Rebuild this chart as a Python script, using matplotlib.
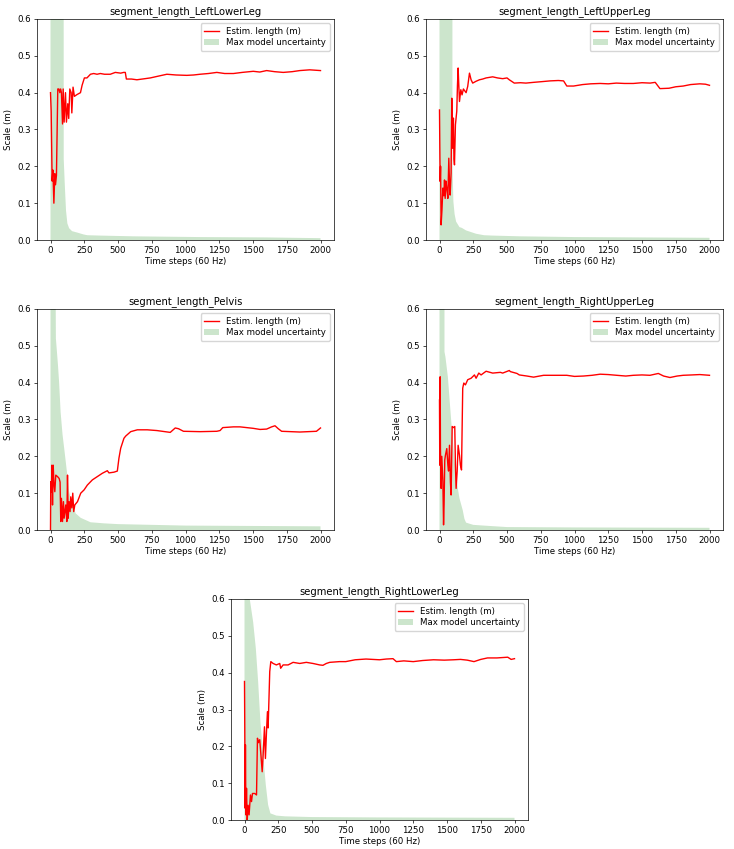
import numpy as np
import matplotlib
matplotlib.use("Agg")
import matplotlib.pyplot as plt

# estimated segment length (time step, value in m)
left_lower_len = [(0, 0.40), (5, 0.35), (12, 0.16), (18, 0.19), (25, 0.10), (32, 0.18), (37, 0.15),
                  (44, 0.175), (54, 0.41), (62, 0.41), (69, 0.40), (75, 0.41), (81, 0.40), (89, 0.315),
                  (94, 0.41), (101, 0.32), (111, 0.40), (118, 0.32), (128, 0.37), (135, 0.33), (143, 0.41),
                  (153, 0.40), (158, 0.345), (167, 0.415), (177, 0.39), (197, 0.395), (222, 0.40),
                  (234, 0.42), (251, 0.44), (270, 0.44), (296, 0.45), (320, 0.452), (345, 0.45),
                  (369, 0.452), (400, 0.45), (443, 0.45), (480, 0.455), (520, 0.453), (542, 0.455),
                  (554, 0.455), (562, 0.437), (600, 0.437), (640, 0.435), (700, 0.438), (739, 0.44),
                  (800, 0.445), (862, 0.45), (930, 0.448), (1010, 0.447), (1060, 0.448), (1108, 0.45),
                  (1170, 0.452), (1232, 0.455), (1290, 0.452), (1355, 0.452), (1420, 0.455), (1502, 0.458),
                  (1550, 0.456), (1601, 0.46), (1660, 0.457), (1724, 0.455), (1790, 0.457), (1847, 0.46),
                  (1920, 0.462), (2000, 0.46)]
left_lower_unc = [(0, 3.0), (96, 3.0), (98, 0.22), (106, 0.15), (115, 0.08), (125, 0.045), (138, 0.032),
                  (160, 0.024), (200, 0.02), (246, 0.015), (273, 0.013), (369, 0.012), (616, 0.01),
                  (1108, 0.008), (1601, 0.007), (2000, 0.005)]

left_upper_len = [(0, 0.353), (3, 0.222), (5, 0.159), (8, 0.20), (12, 0.041), (18, 0.08), (25, 0.141),
                  (32, 0.12), (37, 0.163), (42, 0.113), (48, 0.16), (54, 0.141), (62, 0.113), (69, 0.222),
                  (76, 0.13), (79, 0.122), (86, 0.182), (91, 0.385), (95, 0.25), (99, 0.249), (103, 0.331),
                  (107, 0.22), (111, 0.204), (118, 0.313), (128, 0.35), (133, 0.42), (138, 0.467),
                  (143, 0.42), (148, 0.376), (158, 0.408), (167, 0.394), (177, 0.41), (197, 0.40),
                  (209, 0.417), (222, 0.453), (234, 0.435), (246, 0.426), (271, 0.431), (296, 0.435),
                  (320, 0.437), (345, 0.44), (394, 0.443), (430, 0.44), (468, 0.438), (500, 0.44),
                  (517, 0.435), (554, 0.426), (600, 0.427), (640, 0.426), (697, 0.428), (760, 0.43),
                  (820, 0.432), (880, 0.433), (919, 0.432), (943, 0.418), (993, 0.418), (1060, 0.422),
                  (1120, 0.424), (1190, 0.425), (1250, 0.424), (1310, 0.426), (1370, 0.425), (1436, 0.425),
                  (1500, 0.427), (1560, 0.426), (1598, 0.428), (1633, 0.411), (1700, 0.412), (1750, 0.416),
                  (1805, 0.418), (1860, 0.422), (1928, 0.424), (1970, 0.423), (2000, 0.42)]
left_upper_unc = [(0, 3.0), (94, 3.0), (96, 0.204), (103, 0.104), (112, 0.07), (123, 0.05), (148, 0.035),
                  (165, 0.033), (197, 0.026), (230, 0.022), (271, 0.017), (330, 0.013), (394, 0.012),
                  (600, 0.01), (1000, 0.008), (1500, 0.007), (2000, 0.006)]

pelvis_len = [(0, 0.0), (2, 0.131), (7, 0.104), (10, 0.176), (15, 0.068), (20, 0.176), (25, 0.13),
              (32, 0.104), (39, 0.149), (52, 0.145), (64, 0.14), (71, 0.13), (76, 0.023), (81, 0.086),
              (89, 0.023), (96, 0.077), (101, 0.032), (113, 0.068), (121, 0.023), (126, 0.149),
              (131, 0.032), (138, 0.077), (145, 0.05), (150, 0.09), (158, 0.06), (165, 0.1), (172, 0.05),
              (180, 0.068), (200, 0.077), (224, 0.1), (249, 0.109), (273, 0.122), (310, 0.136),
              (347, 0.145), (384, 0.154), (421, 0.161), (433, 0.155), (470, 0.157), (495, 0.16),
              (507, 0.195), (520, 0.222), (544, 0.249), (557, 0.255), (594, 0.267), (643, 0.272),
              (717, 0.272), (788, 0.27), (887, 0.265), (924, 0.277), (948, 0.275), (985, 0.268),
              (1108, 0.267), (1232, 0.268), (1256, 0.27), (1276, 0.278), (1355, 0.28), (1404, 0.28),
              (1502, 0.276), (1552, 0.273), (1601, 0.274), (1638, 0.28), (1663, 0.283), (1687, 0.275),
              (1712, 0.268), (1847, 0.266), (1970, 0.268), (2000, 0.277)]
pelvis_unc = [(0, 3.0), (38, 0.65), (40, 0.52), (55, 0.45), (64, 0.40), (75, 0.32), (89, 0.26),
              (113, 0.186), (138, 0.104), (160, 0.07), (187, 0.045), (224, 0.033), (297, 0.021),
              (400, 0.018), (500, 0.016), (750, 0.014), (1000, 0.012), (1500, 0.011), (2000, 0.010)]

right_upper_len = [(0, 0.353), (2, 0.176), (5, 0.416), (7, 0.221), (12, 0.113), (17, 0.20), (25, 0.131),
                   (30, 0.014), (34, 0.07), (39, 0.19), (44, 0.203), (54, 0.221), (62, 0.176), (67, 0.16),
                   (74, 0.23), (81, 0.13), (86, 0.095), (94, 0.281), (103, 0.278), (113, 0.281),
                   (118, 0.176), (123, 0.113), (131, 0.16), (138, 0.23), (148, 0.203), (155, 0.176),
                   (163, 0.163), (172, 0.385), (180, 0.399), (192, 0.394), (209, 0.408), (234, 0.412),
                   (259, 0.421), (271, 0.412), (291, 0.426), (308, 0.421), (345, 0.431), (394, 0.426),
                   (451, 0.428), (468, 0.426), (517, 0.433), (525, 0.43), (574, 0.425), (591, 0.421),
                   (648, 0.418), (697, 0.415), (771, 0.42), (850, 0.42), (943, 0.42), (1000, 0.417),
                   (1066, 0.418), (1130, 0.42), (1190, 0.423), (1250, 0.422), (1313, 0.42), (1380, 0.418),
                   (1436, 0.42), (1500, 0.421), (1559, 0.42), (1621, 0.425), (1660, 0.418), (1707, 0.414),
                   (1760, 0.418), (1805, 0.42), (1870, 0.421), (1928, 0.422), (2000, 0.42)]
right_upper_unc = [(0, 3.0), (36, 3.0), (37, 0.484), (44, 0.47), (62, 0.416), (86, 0.3), (111, 0.19),
                   (135, 0.115), (148, 0.086), (172, 0.054), (185, 0.03), (197, 0.02), (250, 0.014),
                   (328, 0.012), (500, 0.008), (1000, 0.007), (2000, 0.006)]

right_lower_len = [(0, 0.376), (2, 0.25), (5, 0.032), (7, 0.204), (10, 0.014), (15, 0.086), (20, 0.0),
                   (27, 0.04), (34, 0.014), (44, 0.068), (52, 0.05), (59, 0.072), (76, 0.072), (89, 0.068),
                   (96, 0.222), (103, 0.21), (113, 0.218), (121, 0.18), (131, 0.131), (138, 0.176),
                   (148, 0.253), (155, 0.167), (163, 0.24), (170, 0.294), (175, 0.25), (182, 0.339),
                   (187, 0.403), (195, 0.43), (212, 0.425), (236, 0.421), (261, 0.425), (268, 0.412),
                   (286, 0.421), (323, 0.421), (360, 0.428), (409, 0.425), (458, 0.428), (507, 0.425),
                   (557, 0.421), (581, 0.42), (606, 0.425), (631, 0.428), (704, 0.43), (750, 0.43),
                   (820, 0.435), (900, 0.437), (1000, 0.435), (1050, 0.437), (1100, 0.438), (1125, 0.43),
                   (1180, 0.432), (1250, 0.43), (1320, 0.433), (1400, 0.435), (1480, 0.434), (1550, 0.435),
                   (1600, 0.436), (1650, 0.434), (1700, 0.43), (1750, 0.436), (1800, 0.44), (1870, 0.44),
                   (1950, 0.442), (1975, 0.436), (2000, 0.438)]
right_lower_unc = [(0, 3.0), (38, 3.0), (39, 0.6), (64, 0.538), (84, 0.466), (101, 0.376), (118, 0.267),
                   (138, 0.176), (158, 0.095), (175, 0.041), (192, 0.018), (236, 0.012), (300, 0.01),
                   (500, 0.008), (1000, 0.007), (2000, 0.006)]

panels = [
    ("segment_length_LeftLowerLeg", left_lower_len, left_lower_unc, [37, 19, 297, 221]),
    ("segment_length_LeftUpperLeg", left_upper_len, left_upper_unc, [426, 19, 297, 221]),
    ("segment_length_Pelvis", pelvis_len, pelvis_unc, [37, 309, 297, 221]),
    ("segment_length_RightUpperLeg", right_upper_len, right_upper_unc, [426, 309, 297, 221]),
    ("segment_length_RightLowerLeg", right_lower_len, right_lower_unc, [231, 599, 297, 221]),
]

W, H = 734, 849
fig = plt.figure(figsize=(W / 100, H / 100), dpi=100)

for title, est, unc, (px, py, pw, ph) in panels:
    # pixel box -> figure fraction
    ax = fig.add_axes([px / W, (H - py - ph) / H, pw / W, ph / H])
    t, v = np.array(est).T
    tu, u = np.array(unc).T
    ax.plot(t, v, color="r", lw=1.0, label="Estim. length (m)")
    ax.fill_between(tu, 0, u, color="g", alpha=0.2, lw=0, label="Max model uncertainty")
    ax.set_ylim(0, 0.6)
    ax.set_title(title, fontsize=7.2, pad=3.5)
    ax.set_xlabel("Time steps (60 Hz)", fontsize=6.2, labelpad=1.5)
    ax.set_ylabel("Scale (m)", fontsize=6.2, labelpad=3)
    ax.tick_params(labelsize=6.2, length=2.2, width=0.5, pad=2)
    for s in ax.spines.values():
        s.set_linewidth(0.5)
    ax.legend(loc="upper right", fontsize=6.2, handlelength=1.8, borderpad=0.4,
              labelspacing=0.3, framealpha=0.8)

fig.savefig("out.png", dpi=100)
